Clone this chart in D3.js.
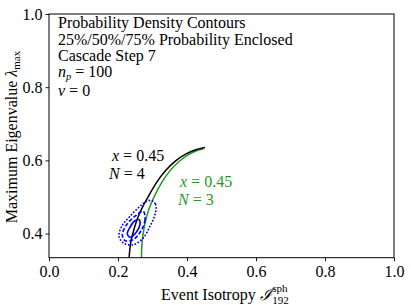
<!DOCTYPE html>
<html lang="en">
<head>
  <meta charset="UTF-8">
  <script src="https://cdnjs.cloudflare.com/ajax/libs/d3/7.8.5/d3.min.js"></script>
  <style>
    body { margin: 0; background: #fff; }
    svg text { font-family: "Liberation Serif", "DejaVu Serif", serif; fill: #000; }
  </style>
</head>
<body>
  <script>
    // curves x = 0.45 (N = 4 black, N = 3 green)
    const blackX = [0.232, 0.236, 0.243, 0.254, 0.270, 0.290, 0.312, 0.338, 0.366, 0.396, 0.425, 0.452];
    const blackY = [0.334, 0.370, 0.400, 0.435, 0.470, 0.505, 0.540, 0.572, 0.598, 0.617, 0.629, 0.635];
    const greenX = [0.268, 0.269, 0.273, 0.280, 0.291, 0.307, 0.327, 0.351, 0.377, 0.403, 0.429, 0.448];
    const greenY = [0.334, 0.365, 0.400, 0.435, 0.470, 0.505, 0.540, 0.572, 0.597, 0.615, 0.627, 0.632];

    // probability contours (75% dotted, 50% dashed, 25% solid)
    const c75X = [0.2977, 0.3093, 0.3072, 0.2928, 0.2733, 0.2443, 0.2154, 0.2029, 0.2107, 0.2348, 0.2638, 0.2832];
    const c75Y = [0.4899, 0.4789, 0.4516, 0.4199, 0.3880, 0.3697, 0.3743, 0.3926, 0.4199, 0.4473, 0.4746, 0.4883];
    const c50X = [0.2733, 0.2783, 0.2687, 0.2443, 0.2203, 0.2125, 0.2252, 0.2493];
    const c50Y = [0.4609, 0.4380, 0.4107, 0.3833, 0.3806, 0.3970, 0.4243, 0.4473];
    const c25X = [0.2609, 0.2638, 0.2513, 0.2348, 0.2270, 0.2348, 0.2472];
    const c25Y = [0.4380, 0.4243, 0.4016, 0.3899, 0.3989, 0.4172, 0.4336];

    const xTicks = [0.0, 0.2, 0.4, 0.6, 0.8, 1.0];
    const yTicks = [0.4, 0.6, 0.8, 1.0];

    const infoLines = ["Probability Density Contours", "25%/50%/75% Probability Enclosed", "Cascade Step 7"];

    const w = 411, h = 305;
    const m = { left: 49, right: 394, top: 14, bottom: 257.7 };

    const svg = d3.select("body").append("svg")
      .attr("width", w)
      .attr("height", h);

    const x = d3.scaleLinear().domain([0, 1]).range([m.left, m.right]);
    const y = d3.scaleLinear().domain([0.334, 1.0]).range([m.bottom, m.top]);

    svg.append("clipPath").attr("id", "clip")
      .append("rect")
      .attr("x", m.left).attr("y", m.top)
      .attr("width", m.right - m.left).attr("height", m.bottom - m.top);

    const plot = svg.append("g").attr("clip-path", "url(#clip)");

    const zip = (xs, ys) => xs.map((v, i) => [v, ys[i]]);
    const line = d3.line().x(d => x(d[0])).y(d => y(d[1])).curve(d3.curveMonotoneX);
    const loop = d3.line().x(d => x(d[0])).y(d => y(d[1])).curve(d3.curveCatmullRomClosed);

    plot.append("path")
      .attr("d", line(zip(greenX, greenY)))
      .attr("fill", "none").attr("stroke", "#1f9a1f").attr("stroke-width", 1.5);

    plot.append("path")
      .attr("d", line(zip(blackX, blackY)))
      .attr("fill", "none").attr("stroke", "#000").attr("stroke-width", 1.5);

    plot.append("path")
      .attr("d", loop(zip(c75X, c75Y)))
      .attr("fill", "none").attr("stroke", "#0000ff").attr("stroke-width", 1.8)
      .attr("stroke-dasharray", "0.1 3.2").attr("stroke-linecap", "round");

    plot.append("path")
      .attr("d", loop(zip(c50X, c50Y)))
      .attr("fill", "none").attr("stroke", "#0000ff").attr("stroke-width", 1.6)
      .attr("stroke-dasharray", "4 2");

    plot.append("path")
      .attr("d", loop(zip(c25X, c25Y)))
      .attr("fill", "none").attr("stroke", "#0000ff").attr("stroke-width", 1.6);

    // axes
    const fmt = d3.format(".1f");
    const xAxis = svg.append("g")
      .attr("transform", "translate(0," + m.bottom + ")")
      .call(d3.axisBottom(x).tickValues(xTicks).tickFormat(fmt).tickSize(3.5).tickPadding(4));
    const yAxis = svg.append("g")
      .attr("transform", "translate(" + m.left + ",0)")
      .call(d3.axisLeft(y).tickValues(yTicks).tickFormat(fmt).tickSize(3.5).tickPadding(3));

    [xAxis, yAxis].forEach(g => {
      g.select(".domain").remove();
      g.selectAll("line").attr("stroke", "#000").attr("stroke-width", 0.9);
      g.selectAll("text").attr("font-size", 16).attr("font-family", "Liberation Serif").attr("fill", "#000");
    });

    svg.append("rect")
      .attr("x", m.left).attr("y", m.top)
      .attr("width", m.right - m.left).attr("height", m.bottom - m.top)
      .attr("fill", "none").attr("stroke", "#000").attr("stroke-width", 1);

    // info box text
    const info = svg.append("g").attr("font-size", 16);
    infoLines.forEach((t, i) => {
      info.append("text").attr("x", 58).attr("y", 28 + i * 16.5).text(t);
    });
    const np = info.append("text").attr("x", 58).attr("y", 27.5 + 3 * 16.5);
    np.append("tspan").attr("font-style", "italic").text("n");
    np.append("tspan").attr("font-style", "italic").attr("font-size", 10.5).attr("dy", 2.5).text("p");
    np.append("tspan").attr("dy", -2.5).text(" = 100");
    const nu = info.append("text").attr("x", 58).attr("y", 29.5 + 4 * 16.5);
    nu.append("tspan").attr("font-style", "italic").text("ν");
    nu.append("tspan").text(" = 0");

    // curve annotations
    function label(g, px, py, varName, value, color) {
      const t = g.append("text").attr("x", px).attr("y", py).attr("font-size", 16).style("fill", color);
      t.append("tspan").attr("font-style", "italic").text(varName);
      t.append("tspan").text(" = " + value);
    }
    label(svg, 112, 161, "x", "0.45", "#000");
    label(svg, 109, 179, "N", "4", "#000");
    label(svg, 180, 187, "x", "0.45", "#1f9a1f");
    label(svg, 178, 205, "N", "3", "#1f9a1f");

    // x axis label
    const xl = svg.append("text").attr("y", 300).attr("font-size", 16);
    xl.append("tspan").text("Event Isotropy ");
    xl.append("tspan").attr("font-style", "italic").text("ℐ");
    const xlW = xl.node().getComputedTextLength();
    const xlX = 161;
    xl.attr("x", xlX);
    svg.append("text").attr("x", xlX + xlW + 0.5).attr("y", 292).attr("font-size", 11).text("sph");
    svg.append("text").attr("x", xlX + xlW + 0.5).attr("y", 304).attr("font-size", 11).text("192");

    // y axis label
    const yl = svg.append("text")
      .attr("transform", "translate(17,137) rotate(-90)")
      .attr("text-anchor", "middle")
      .attr("font-size", 16);
    yl.append("tspan").text("Maximum Eigenvalue ");
    yl.append("tspan").attr("font-style", "italic").text("λ");
    yl.append("tspan").attr("font-size", 11).attr("dy", 3).text("max");
  </script>
</body>
</html>
